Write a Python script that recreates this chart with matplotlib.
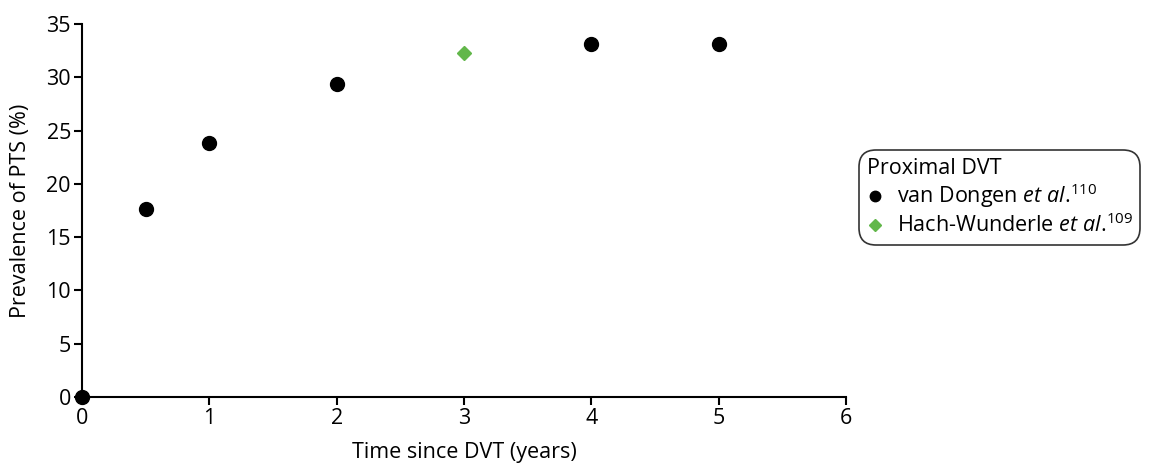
import matplotlib
matplotlib.use("Agg")
import matplotlib.pyplot as plt

plt.rcParams['font.family'] = ['Open Sans', 'DejaVu Sans']
plt.rcParams['mathtext.fontset'] = 'custom'
plt.rcParams['mathtext.rm'] = 'Open Sans'
plt.rcParams['mathtext.it'] = 'Open Sans:italic'

# data
vd_years = [0, 0.5, 1, 2, 4, 5]
vd_prev = [0, 17.6, 23.8, 29.4, 33.1, 33.1]
hw_years = [3]
hw_prev = [32.3]

fs = 15.5

fig = plt.figure(figsize=(11.76, 4.66), dpi=100)
ax = fig.add_axes([82 / 1176, 1 - 397 / 466, (846 - 82) / 1176, (397 - 24) / 466])

ax.plot(vd_years, vd_prev, 'o', color='black', markersize=10, clip_on=False,
        label=r'van Dongen $\mathit{et\ al}$.$^{\mathrm{110}}$', zorder=3)
ax.plot(hw_years, hw_prev, 'D', color='#62b74a', markersize=7.5, clip_on=False,
        label=r'Hach-Wunderle $\mathit{et\ al}$.$^{\mathrm{109}}$', zorder=3)

ax.set_xlim(0, 6)
ax.set_ylim(0, 35)
ax.set_xticks(range(0, 7))
ax.set_yticks(range(0, 36, 5))
ax.spines['top'].set_visible(False)
ax.spines['right'].set_visible(False)
ax.spines['left'].set_linewidth(1.5)
ax.spines['bottom'].set_linewidth(1.5)
ax.tick_params(labelsize=fs, width=1.5, length=6, direction='out', pad=2)
ax.set_xlabel('Time since DVT (years)', fontsize=fs, labelpad=9)
ax.set_ylabel('Prevalence of PTS (%)', fontsize=fs, labelpad=11)

leg = fig.legend(loc='upper left', bbox_to_anchor=(859 / 1176, 1 - 150 / 466),
                 title='Proximal DVT', alignment='left', fontsize=fs,
                 title_fontsize=fs, frameon=True, fancybox=True,
                 edgecolor='black', handletextpad=0.6, handlelength=0.8,
                 markerscale=0.75, borderpad=0.35, labelspacing=0.15,
                 borderaxespad=0)
leg.get_frame().set_linewidth(1.2)
leg.get_frame().set_boxstyle('round', pad=0, rounding_size=0.8)

fig.savefig('out.png', dpi=100)
